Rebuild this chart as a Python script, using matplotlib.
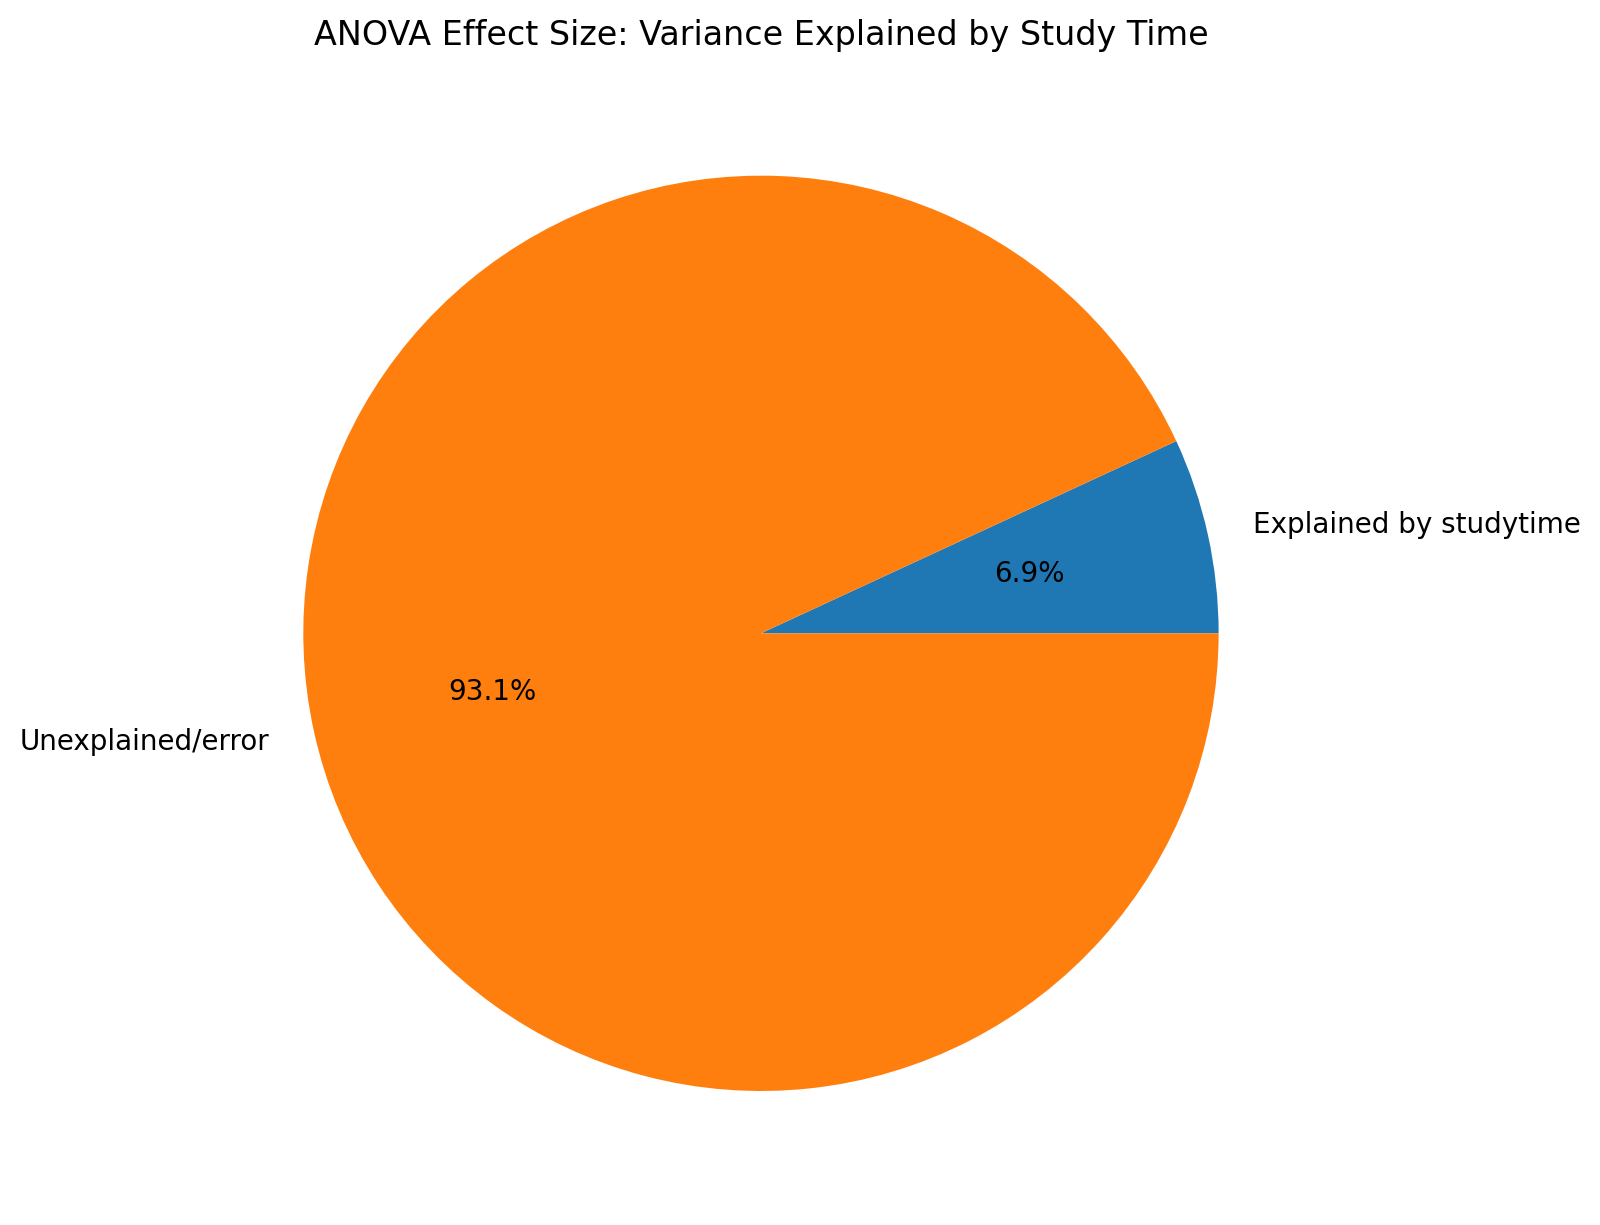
import matplotlib
matplotlib.use('Agg')
import matplotlib.pyplot as plt

labels = ['Explained by studytime', 'Unexplained/error']
shares = [6.9, 93.1]

fig = plt.figure(figsize=(8, 6.125), dpi=200)
ax = fig.add_axes([0.1178, 0.016, 0.7156, 0.934])
ax.pie(shares, labels=labels, autopct='%1.1f%%')
ax.set_title('ANOVA Effect Size: Variance Explained by Study Time')

fig.savefig('out.png', dpi=200)
